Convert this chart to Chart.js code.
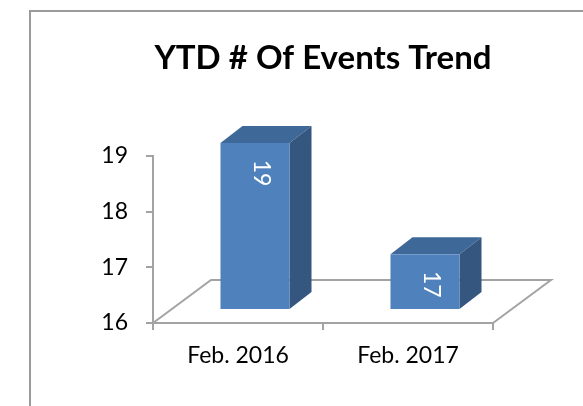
<!DOCTYPE html>
<html>
<head>
<meta charset="utf-8">
<style>
  html, body { margin: 0; padding: 0; background: #fff; }
  #wrap { position: relative; width: 583px; height: 406px; }
</style>
<script src="https://cdn.jsdelivr.net/npm/chart.js@4.4.1/dist/chart.umd.min.js"></script>
</head>
<body>
<div id="wrap"><canvas id="trendChart" width="583" height="406"></canvas></div>
<script>
// data
const categories = ['Feb. 2016', 'Feb. 2017'];
const eventCounts = [19, 17];
const yMin = 16;
const yMax = 19;
const yStep = 1;

const FONT = 'Lato, "Open Sans", sans-serif';
const GREY = '#a3a3a3';

// 3D look: bars sit part way back on the floor
const floorDepth = { x: 58, y: 43 };
const barShift = { x: 17, y: 13 };
const barDepth = { x: 22, y: 17 };

const frame3d = {
    id: 'frame3d',
    beforeDraw(chart) {
        const ctx = chart.ctx;
        ctx.save();
        ctx.strokeStyle = '#9a9a9a';
        ctx.lineWidth = 2;
        ctx.beginPath();
        ctx.moveTo(30, 406);
        ctx.lineTo(30, 11);
        ctx.lineTo(583, 11);
        ctx.stroke();
        ctx.restore();
    },
    beforeDatasetsDraw(chart) {
        const { ctx, chartArea } = chart;
        const l = chartArea.left, r = chartArea.right, b = chartArea.bottom;
        ctx.save();
        ctx.strokeStyle = GREY;
        ctx.lineWidth = 2;
        ctx.beginPath();
        ctx.moveTo(l, b);
        ctx.lineTo(l + floorDepth.x, b - floorDepth.y);
        ctx.lineTo(r + floorDepth.x, b - floorDepth.y);
        ctx.lineTo(r, b);
        ctx.stroke();
        ctx.restore();
    },
    afterDatasetsDraw(chart) {
        const ctx = chart.ctx;
        const meta = chart.getDatasetMeta(0);
        meta.data.forEach((bar, i) => {
            const p = bar.getProps(['x', 'y', 'base', 'width'], true);
            const x0 = p.x - p.width / 2 + barShift.x;
            const x1 = p.x + p.width / 2 + barShift.x;
            const top = p.y - barShift.y;
            const bottom = Math.min(p.base, chart.chartArea.bottom) - barShift.y;
            ctx.save();
            // top face
            ctx.fillStyle = '#3d6898';
            ctx.beginPath();
            ctx.moveTo(x0, top);
            ctx.lineTo(x0 + barDepth.x, top - barDepth.y);
            ctx.lineTo(x1 + barDepth.x, top - barDepth.y);
            ctx.lineTo(x1, top);
            ctx.closePath();
            ctx.fill();
            // side face
            ctx.fillStyle = '#34567f';
            ctx.beginPath();
            ctx.moveTo(x1, top);
            ctx.lineTo(x1 + barDepth.x, top - barDepth.y);
            ctx.lineTo(x1 + barDepth.x, bottom - barDepth.y);
            ctx.lineTo(x1, bottom);
            ctx.closePath();
            ctx.fill();
            // front face
            ctx.fillStyle = '#4f81bd';
            ctx.fillRect(x0, top, x1 - x0, bottom - top);
            // value label, rotated
            ctx.translate((x0 + x1) / 2 + 6, top + 30);
            ctx.rotate(Math.PI / 2);
            ctx.fillStyle = '#ffffff';
            ctx.font = '23px ' + FONT;
            ctx.textAlign = 'center';
            ctx.textBaseline = 'middle';
            ctx.fillText(String(eventCounts[i]), 0, 0);
            ctx.restore();
        });
    }
};

new Chart(document.getElementById('trendChart'), {
    type: 'bar',
    data: {
        labels: categories,
        datasets: [{
            label: 'Events',
            data: eventCounts,
            base: yMin,
            backgroundColor: 'rgba(0,0,0,0)',
            borderWidth: 0,
            barPercentage: 0.406,
            categoryPercentage: 1
        }]
    },
    options: {
        responsive: false,
        animation: false,
        events: [],
        layout: { padding: { left: 0, right: 90, top: 0, bottom: 0 } },
        plugins: {
            legend: { display: false },
            tooltip: { enabled: false },
            title: {
                display: true,
                text: 'YTD # Of Events Trend',
                fullSize: false,
                color: '#000',
                font: { family: FONT, size: 33, weight: 'bold', lineHeight: 1.2 },
                padding: { top: 39, bottom: 77.4 }
            }
        },
        scales: {
            x: {
                afterFit: (scale) => { scale.height = 83; },
                grid: { display: true, drawOnChartArea: false, tickLength: 7, color: GREY, lineWidth: 2 },
                border: { display: true, color: GREY, width: 2 },
                ticks: { color: '#000', padding: 12, font: { family: FONT, size: 23 } }
            },
            y: {
                min: yMin,
                max: yMax,
                afterFit: (scale) => { scale.width = 153; },
                grid: { display: true, drawOnChartArea: false, tickLength: 7, color: GREY, lineWidth: 2 },
                border: { display: true, color: GREY, width: 2 },
                ticks: { stepSize: yStep, color: '#000', padding: 18, font: { family: FONT, size: 23 } }
            }
        }
    },
    plugins: [frame3d]
});
</script>
</body>
</html>
